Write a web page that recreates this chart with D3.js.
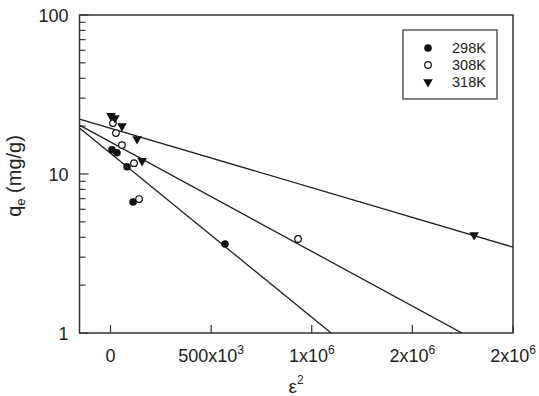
<!DOCTYPE html>
<html>
<head>
    <script src="https://d3js.org/d3.v7.min.js"></script>
    <style>
        body { margin: 0; background: #fff; }
        text { font-family: "Liberation Sans", Arial, sans-serif; fill: #222; }
    </style>
</head>
<body>
<div id="chart"></div>
<script>
    // series names and symbols
    const seriesNames = ["298K", "308K", "318K"];
    const symbols = ["filled", "open", "triangle"];

    // epsilon^2 values and qe values
    const x298 = [7500, 32000, 82000, 112000, 569000];
    const y298 = [14.2, 13.6, 11.1, 6.67, 3.63];
    const x308 = [12000, 27000, 57000, 117000, 142000, 932000];
    const y308 = [20.9, 18.1, 15.2, 11.7, 6.96, 3.90];
    const x318 = [2500, 22000, 57000, 132000, 157000, 1807000];
    const y318 = [23.2, 22.5, 20.0, 16.6, 12.1, 4.13];

    // fitted lines: log10(qe) = log10(intercept) + slope * eps^2
    const fitIntercept = [13.5, 15.9, 19.4];
    const fitSlope = [-1.031e-6, -6.88e-7, -3.74e-7];

    // axis ticks
    const xTicks = [0, 500000, 1000000, 1500000, 2000000];
    const xTickLabels = [["0", ""], ["500x10", "3"], ["1x10", "6"], ["2x10", "6"], ["2x10", "6"]];
    const yTicks = [1, 10, 100];

    const width = 539, height = 396;
    const pLeft = 79.5, pRight = 513, pTop = 15, pBottom = 333;

    const svg = d3.select("#chart").append("svg")
        .attr("width", width)
        .attr("height", height);

    const x = d3.scaleLinear().domain([-154000, 2000000]).range([pLeft, pRight]);
    const y = d3.scaleLog().domain([1, 100]).range([pBottom, pTop]);

    svg.append("clipPath").attr("id", "clip")
        .append("rect")
        .attr("x", pLeft).attr("y", pTop)
        .attr("width", pRight - pLeft).attr("height", pBottom - pTop);

    // minor + major y ticks, pointing inward
    const minor = [];
    for (let d = 1; d < 100; d *= 10) {
        for (let k = 2; k <= 9; k++) minor.push(d * k);
    }
    svg.selectAll(".ymin").data(minor).enter().append("line")
        .attr("x1", pLeft).attr("x2", pLeft + 6)
        .attr("y1", d => y(d)).attr("y2", d => y(d))
        .attr("stroke", "#333").attr("stroke-width", 1.2);
    svg.selectAll(".ymaj").data(yTicks).enter().append("line")
        .attr("x1", pLeft).attr("x2", pLeft + 9)
        .attr("y1", d => y(d)).attr("y2", d => y(d))
        .attr("stroke", "#333").attr("stroke-width", 1.2);
    svg.selectAll(".ylab").data(yTicks).enter().append("text")
        .attr("x", pLeft - 11)
        .attr("y", d => y(d) + 6.5)
        .attr("text-anchor", "end")
        .attr("font-size", 18)
        .text(d => d);

    // x ticks
    svg.selectAll(".xt").data(xTicks).enter().append("line")
        .attr("x1", d => x(d)).attr("x2", d => x(d))
        .attr("y1", pBottom).attr("y2", pBottom - 8)
        .attr("stroke", "#333").attr("stroke-width", 1.2);
    const xl = svg.selectAll(".xl").data(xTicks).enter().append("text")
        .attr("x", d => x(d))
        .attr("y", pBottom + 29)
        .attr("text-anchor", "middle")
        .attr("font-size", 18);
    xl.append("tspan").text((d, i) => xTickLabels[i][0]);
    xl.append("tspan")
        .attr("font-size", 12)
        .attr("dy", -8)
        .text((d, i) => xTickLabels[i][1]);

    // frame
    svg.append("rect")
        .attr("x", pLeft).attr("y", pTop)
        .attr("width", pRight - pLeft).attr("height", pBottom - pTop)
        .attr("fill", "none").attr("stroke", "#333").attr("stroke-width", 1.5);

    // fit lines
    const xd = x.domain();
    const plot = svg.append("g").attr("clip-path", "url(#clip)");
    fitIntercept.forEach((b, i) => {
        const pts = xd.map(v => [v, b * Math.pow(10, fitSlope[i] * v)]);
        plot.append("path")
            .attr("d", d3.line().x(p => x(p[0])).y(p => y(p[1]))(pts))
            .attr("fill", "none").attr("stroke", "#222").attr("stroke-width", 1.3);
    });

    const tri = d3.symbol().type(d3.symbolTriangle).size(40);

    function drawMark(g, kind, cx, cy) {
        if (kind === "filled") {
            g.append("circle").attr("cx", cx).attr("cy", cy).attr("r", 3.8).attr("fill", "#111");
        } else if (kind === "open") {
            g.append("circle").attr("cx", cx).attr("cy", cy).attr("r", 3.3)
                .attr("fill", "#fff").attr("stroke", "#111").attr("stroke-width", 1.2);
        } else {
            g.append("path").attr("d", tri())
                .attr("transform", `translate(${cx},${cy}) rotate(180)`)
                .attr("fill", "#111");
        }
    }

    const xs = [x298, x308, x318], ys = [y298, y308, y318];
    const marks = svg.append("g");
    xs.forEach((arr, i) => {
        arr.forEach((v, j) => drawMark(marks, symbols[i], x(v), y(ys[i][j])));
    });

    // legend
    svg.append("rect")
        .attr("x", 403).attr("y", 30).attr("width", 94).attr("height", 69)
        .attr("fill", "#fff").attr("stroke", "#333").attr("stroke-width", 1.2);
    seriesNames.forEach((name, i) => {
        const ly = 48 + i * 17;
        drawMark(svg, symbols[i], 428, ly);
        svg.append("text")
            .attr("x", 452).attr("y", ly + 5)
            .attr("font-size", 14.5)
            .text(name);
    });

    // axis titles
    const yt = svg.append("text")
        .attr("transform", `translate(21,${(pTop + pBottom) / 2 + 2}) rotate(-90)`)
        .attr("text-anchor", "middle")
        .attr("font-size", 20);
    yt.append("tspan").text("q");
    yt.append("tspan").attr("font-size", 13).attr("dy", 4).text("e");
    yt.append("tspan").attr("dy", -4).text(" (mg/g)");

    const xt = svg.append("text")
        .attr("x", 296).attr("y", 393)
        .attr("text-anchor", "middle")
        .attr("font-size", 19);
    xt.append("tspan").text("ε");
    xt.append("tspan").attr("font-size", 12).attr("dy", -9).text("2");
</script>
</body>
</html>
